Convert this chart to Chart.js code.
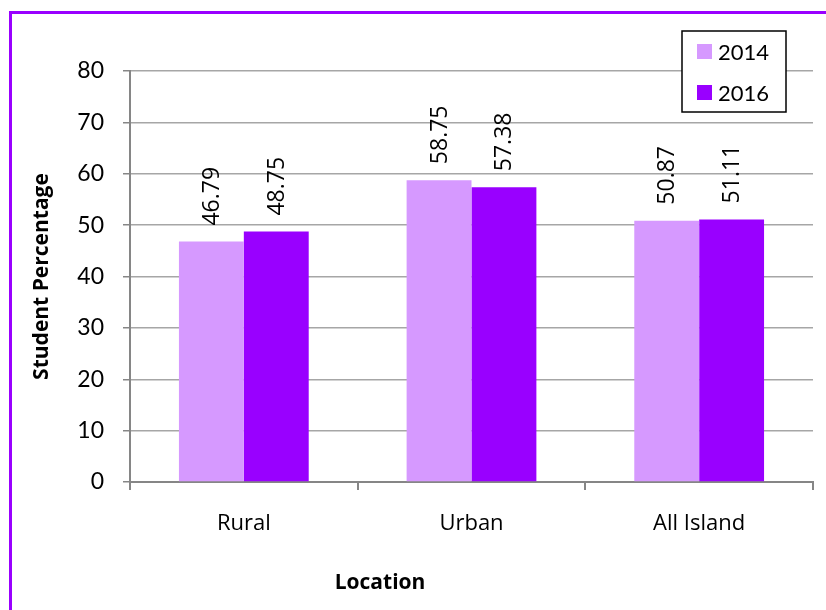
<!DOCTYPE html>
<html>
<head>
<meta charset="utf-8">
<script src="https://cdn.jsdelivr.net/npm/chart.js@4"></script>
<style>
  body { margin: 0; background: #fff; }
  canvas { display: block; }
</style>
</head>
<body>
<canvas id="chart" width="826" height="610"></canvas>
<script>
const locations = ['Rural', 'Urban', 'All Island']
const years = ['2014', '2016']
const values2014 = [46.79, 58.75, 50.87]
const values2016 = [48.75, 57.38, 51.11]
const yTicks = [0, 10, 20, 30, 40, 50, 60, 70, 80]

const lightPurple = '#d699ff'
const darkPurple = '#9900ff'

// labels, legend, axis titles and the frame drawn on top
const extras = {
  id: 'extras',
  beforeDraw(chart) {
    const ctx = chart.ctx
    ctx.save()
    ctx.fillStyle = '#fff'
    ctx.fillRect(0, 0, chart.width, chart.height)
    ctx.restore()
  },
  afterDatasetsDraw(chart) {
    const ctx = chart.ctx
    ctx.save()
    ctx.fillStyle = '#000'
    ctx.font = '23px "Open Sans"'
    ctx.textAlign = 'left'
    ctx.textBaseline = 'middle'
    chart.data.datasets.forEach((ds, i) => {
      chart.getDatasetMeta(i).data.forEach((bar, j) => {
        ctx.save()
        ctx.translate(bar.x, bar.y - 16)
        ctx.rotate(-Math.PI / 2)
        ctx.fillText(ds.data[j].toFixed(2), 0, 1)
        ctx.restore()
      })
    })
    ctx.restore()
  },
  afterDraw(chart) {
    const ctx = chart.ctx
    const area = chart.chartArea
    ctx.save()

    // legend box
    ctx.fillStyle = '#fff'
    ctx.fillRect(682, 31, 104, 81)
    ctx.strokeStyle = '#000'
    ctx.lineWidth = 1.5
    ctx.strokeRect(682, 31, 104, 81)
    ctx.font = '22px Lato'
    ctx.textAlign = 'left'
    ctx.textBaseline = 'middle'
    chart.data.datasets.forEach((ds, i) => {
      const cy = 51.5 + i * 41
      ctx.fillStyle = ds.backgroundColor
      ctx.fillRect(697, cy - 7.5, 15, 15)
      ctx.fillStyle = '#000'
      ctx.fillText(ds.label, 718, cy + 1)
    })

    // axis titles
    ctx.font = 'bold 21px "Open Sans"'
    ctx.textAlign = 'center'
    ctx.fillText('Location', 380, 583)
    ctx.save()
    ctx.translate(42, (area.top + area.bottom) / 2)
    ctx.rotate(-Math.PI / 2)
    ctx.fillText('Student Percentage', 0, 0)
    ctx.restore()

    // purple frame (only left and top show)
    ctx.strokeStyle = darkPurple
    ctx.lineWidth = 3
    ctx.beginPath()
    ctx.moveTo(10.5, chart.height + 5)
    ctx.lineTo(10.5, 12.5)
    ctx.lineTo(chart.width + 5, 12.5)
    ctx.stroke()
    ctx.restore()
  }
}

new Chart(document.getElementById('chart'), {
  type: 'bar',
  data: {
    labels: locations,
    datasets: [
      { label: years[0], data: values2014, backgroundColor: lightPurple },
      { label: years[1], data: values2016, backgroundColor: darkPurple }
    ]
  },
  options: {
    responsive: false,
    animation: false,
    layout: { padding: { top: 71, right: 13, left: 0, bottom: 0 } },
    datasets: {
      bar: { categoryPercentage: 0.57, barPercentage: 1 }
    },
    plugins: {
      legend: { display: false },
      tooltip: { enabled: false }
    },
    scales: {
      x: {
        afterFit(scale) { scale.height = 128 },
        grid: {
          offset: true,
          drawOnChartArea: false,
          drawTicks: true,
          tickLength: 8,
          color: '#868686',
          lineWidth: 2
        },
        border: { color: '#868686', width: 2 },
        ticks: {
          color: '#000',
          font: { family: 'Open Sans', size: 22 },
          padding: 21
        }
      },
      y: {
        min: 0,
        max: 80,
        afterFit(scale) { scale.width = 130 },
        afterBuildTicks(scale) { scale.ticks = yTicks.map(v => ({ value: v })) },
        grid: {
          color: '#a6a6a6',
          lineWidth: 1.5,
          tickLength: 7,
          tickColor: '#868686'
        },
        border: { color: '#868686', width: 2 },
        ticks: {
          color: '#000',
          font: { family: 'Lato', size: 23 },
          padding: 19
        }
      }
    }
  },
  plugins: [extras]
})
</script>
</body>
</html>
